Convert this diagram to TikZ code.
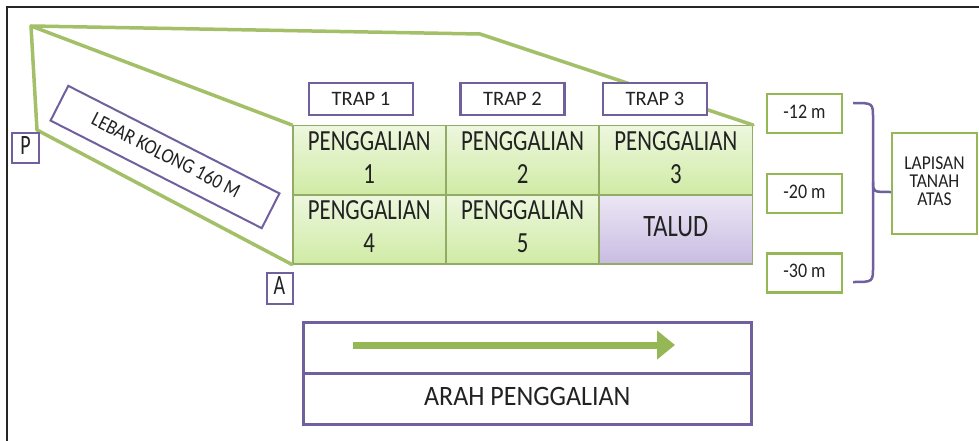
\documentclass[tikz,border=0pt]{standalone}
\usepackage{fontspec}
\usepackage{graphicx}
\setmainfont{Carlito}
\usetikzlibrary{arrows.meta}
\definecolor{gline}{RGB}{163,192,104}
\definecolor{gbox}{RGB}{150,183,86}
\definecolor{purp}{RGB}{112,96,158}
\definecolor{cellb}{RGB}{146,172,104}
\definecolor{cellt}{RGB}{237,247,222}
\definecolor{cellbot}{RGB}{208,235,165}
\definecolor{talt}{RGB}{236,231,245}
\definecolor{talb}{RGB}{200,188,226}
\definecolor{txt}{RGB}{34,34,34}
\newcommand{\tallt}[2]{\scalebox{1}[#1]{\begin{tabular}{@{}c@{}}#2\end{tabular}}}
\begin{document}
\begin{tikzpicture}[x=1pt,y=-1pt,
  cell/.style={draw=cellb, line width=1.5pt, top color=cellt, bottom color=cellbot,
    minimum width=153pt, minimum height=69pt, align=center, inner sep=0pt, text=txt,
    font=\fontsize{22.8}{26.3}\selectfont, anchor=north west},
  talud/.style={cell, top color=talt, bottom color=talb, font=\fontsize{24.5}{28}\selectfont},
  trapbox/.style={draw=purp, line width=2.5pt, fill=white, minimum width=104pt,
    minimum height=32pt, inner sep=0pt, text=txt, font=\fontsize{20.5}{22}\selectfont},
  depthbox/.style={draw=gbox, line width=2.5pt, fill=white, minimum width=75pt,
    minimum height=39pt, inner sep=0pt, text=txt, font=\fontsize{18}{20}\selectfont},
  letterbox/.style={draw=purp, line width=2pt, fill=white, minimum width=27pt,
    minimum height=30pt, inner sep=0pt, text=txt, font=\fontsize{20}{22}\selectfont},
  dirbox/.style={draw=purp, line width=2.5pt, fill=white, minimum width=448pt,
    minimum height=51pt, inner sep=0pt, anchor=north west, text=txt,
    font=\fontsize{26}{30}\selectfont},
  outline/.style={draw=gline, line width=3.5pt, line join=round, line cap=round},
]
\useasboundingbox (0,0) rectangle (979,441);
\fill[white] (0,0) rectangle (979,441);
% outer frame
\draw[black!85, line width=1.8pt] (7,441) -- (7,7) -- (979,7);

% perspective outline coordinates
\coordinate (T) at (31,26);
\coordinate (Lb) at (37,130);
\coordinate (M) at (480,34);

% grid cells
\node[cell] (c1) at (292,125) {\tallt{1.28}{PENGGALIAN\\1}};
\node[cell] (c2) at (445.3,125) {\tallt{1.28}{PENGGALIAN\\2}};
\node[cell] (c3) at (598.6,125) {\tallt{1.28}{PENGGALIAN\\3}};
\node[cell] (c4) at (292,194) {\tallt{1.28}{PENGGALIAN\\4}};
\node[cell] (c5) at (445.3,194) {\tallt{1.28}{PENGGALIAN\\5}};
\node[talud] (c6) at (598.6,194) {\tallt{1.27}{TALUD}};

% outline lines
\draw[outline] (c1.north west) -- (T) -- (M) -- (c3.north east);
\draw[outline] (T) -- (Lb) -- (c4.south west);

% trap labels
\node[trapbox] (t1) at (361,99) {TRAP 1};
\node[trapbox] (t2) at (512.5,99) {TRAP 2};
\node[trapbox] (t3) at (655,99) {TRAP 3};

% P and A
\node[letterbox] (P) at (25.5,148) {\tallt{1.4}{P}};
\node[letterbox, minimum width=26pt, minimum height=31pt] (A) at (279.5,288) {\tallt{1.4}{A}};

% lebar kolong
\node[draw=purp, line width=2pt, fill=white, minimum width=237pt, minimum height=39pt,
  inner sep=0pt, rotate=-27, text=txt, font=\fontsize{18}{20}\selectfont] (lebar) at (165,157)
  {\tallt{1.15}{LEBAR KOLONG 160 M}};

% depth boxes
\node[depthbox] (d1) at (804.5,113.5) {\tallt{1.15}{-12 m}};
\node[depthbox] (d2) at (804.5,193.5) {\tallt{1.15}{-20 m}};
\node[depthbox] (d3) at (804.5,273) {\tallt{1.15}{-30 m}};

% lapisan box
\node[draw=gbox, line width=2.5pt, fill=white, minimum width=85pt, minimum height=101pt,
  inner sep=0pt, align=center, text=txt, font=\fontsize{17.5}{16}\selectfont]
  (lap) at (934.5,183.5) {\tallt{1.12}{LAPISAN\\TANAH\\ATAS}};

% brace
\coordinate (bt) at (853,103);
\coordinate (bb) at (853,282);
\coordinate (bm) at (873,192);
\draw[purp, line width=2.5pt, line join=round]
  (bt) .. controls (873,103) .. (873,118) -- (873,267) .. controls (873,282) .. (bb);
\draw[purp, line width=2.5pt]
  (873,182) .. controls (873,192) .. (lap.west |- bm);

% direction box
\node[dirbox] (dtop) at (302,321) {};
\node[dirbox] (dbot) at (302,372) {\tallt{1.08}{ARAH PENGGALIAN}};
\coordinate (as) at (353,345);
\coordinate (ae) at (675,345);
\draw[gbox, line width=7pt, -{Triangle[width=28pt,length=18pt]}] (as) -- (ae);
\end{tikzpicture}
\end{document}
